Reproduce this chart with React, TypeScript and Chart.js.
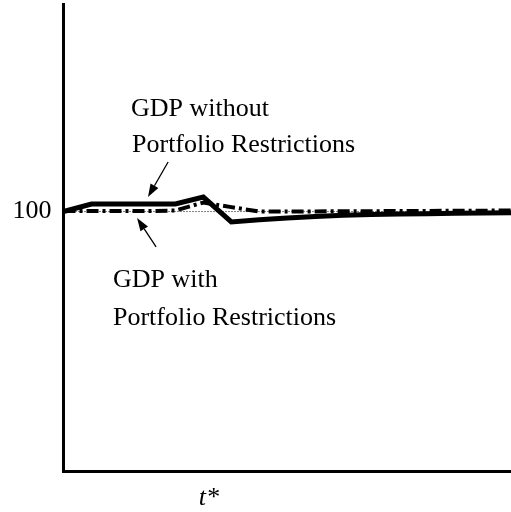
import { useEffect, useRef } from 'react';
import { Chart, registerables } from 'chart.js';

Chart.register(...registerables);

// ---- data ----
const periods = [0, 1, 2, 3, 4, 5, 6, 7, 8, 9, 10, 11, 12, 13, 14, 15, 16];
const gdpWithout = [100, 102.9, 102.9, 102.9, 102.9, 105.6, 96.0, 96.8, 97.5, 98.1, 98.6, 98.9, 99.1, 99.2, 99.3, 99.4, 99.5];
const gdpWith = [100.2, 100.2, 100.2, 100.2, 100.4, 103.5, 101.7, 100.0, 100.0, 100.05, 100.1, 100.15, 100.2, 100.25, 100.3, 100.35, 100.4];
const baseline = [100, 100, 100, 100, 100, 100, 100, 100, 100, 100, 100, 100, 100, 100, 100, 100, 100];

const yTickValues = [100];
const yTickLabels = ['100'];
const xTickValues = [5.2];
const xTickLabels = ['t*'];

const upperLabel = ['GDP without', 'Portfolio Restrictions'];
const upperLabelPos = [{ x: 2.41, y: 136.9 }, { x: 2.45, y: 123.0 }];
const lowerLabel = ['GDP with', 'Portfolio Restrictions'];
const lowerLabelPos = [{ x: 1.77, y: 70.9 }, { x: 1.77, y: 56.3 }];
const arrowUpper = { from: { x: 3.74, y: 119.1 }, to: { x: 3.02, y: 105.6 } };
const arrowLower = { from: { x: 3.31, y: 86.4 }, to: { x: 2.63, y: 97.5 } };

const FONT = '"Liberation Serif", "Times New Roman", serif';

const annotationPlugin = {
  id: 'annotations',
  afterDatasetsDraw(chart: any) {
    const ctx = chart.ctx as CanvasRenderingContext2D;
    const xs = chart.scales.x;
    const ys = chart.scales.y;
    const px = (p: { x: number; y: number }) => [xs.getPixelForValue(p.x), ys.getPixelForValue(p.y)];
    ctx.save();
    ctx.fillStyle = '#000';
    ctx.font = `26px ${FONT}`;
    ctx.textAlign = 'left';
    ctx.textBaseline = 'alphabetic';
    const texts = [...upperLabel.map((t, i) => [t, upperLabelPos[i]]), ...lowerLabel.map((t, i) => [t, lowerLabelPos[i]])] as any[];
    for (const [t, p] of texts) {
      const [x, y] = px(p);
      ctx.fillText(t, x, y);
    }
    const drawArrow = (a: any) => {
      const [x1, y1] = px(a.from);
      const [x2, y2] = px(a.to);
      const ang = Math.atan2(y2 - y1, x2 - x1);
      const head = 13;
      const half = 4.5;
      const bx = x2 - head * Math.cos(ang);
      const by = y2 - head * Math.sin(ang);
      ctx.strokeStyle = '#000';
      ctx.lineWidth = 1.3;
      ctx.beginPath();
      ctx.moveTo(x1, y1);
      ctx.lineTo(bx, by);
      ctx.stroke();
      ctx.beginPath();
      ctx.moveTo(x2, y2);
      ctx.lineTo(bx + half * Math.sin(ang), by - half * Math.cos(ang));
      ctx.lineTo(bx - half * Math.sin(ang), by + half * Math.cos(ang));
      ctx.closePath();
      ctx.fill();
    };
    drawArrow(arrowUpper);
    drawArrow(arrowLower);
    ctx.restore();
  },
};

export default function App() {
  const ref = useRef<HTMLCanvasElement | null>(null);
  useEffect(() => {
    if (!ref.current) return;
    const toPts = (vals: number[]) => periods.map((p, i) => ({ x: p, y: vals[i] }));
    const chart = new Chart(ref.current, {
      type: 'line',
      data: {
        datasets: [
          {
            data: toPts(gdpWithout),
            borderColor: '#000',
            borderWidth: 5,
            pointRadius: 0,
            tension: 0,
            borderJoinStyle: 'miter',
          },
          {
            data: toPts(gdpWith),
            borderColor: '#000',
            borderWidth: 4,
            borderDash: [12, 4, 3, 4],
            pointRadius: 0,
            tension: 0,
            borderJoinStyle: 'miter',
          },
          {
            data: toPts(baseline),
            borderColor: '#000',
            borderWidth: 1,
            borderDash: [1, 2],
            pointRadius: 0,
            tension: 0,
          },
        ],
      },
      options: {
        responsive: false,
        animation: false,
        devicePixelRatio: 1,
        layout: { padding: { top: 4, left: 0, right: 0, bottom: 0 } },
        plugins: { legend: { display: false }, tooltip: { enabled: false } },
        scales: {
          x: {
            type: 'linear',
            min: 0,
            max: 16,
            grid: { display: false, drawTicks: false },
            border: { display: true, color: '#000', width: 3 },
            afterBuildTicks: (s: any) => {
              s.ticks = xTickValues.map((v) => ({ value: v }));
            },
            afterFit: (s: any) => {
              s.height = 41;
              s.paddingLeft = 0;
              s.paddingRight = 0;
              s.paddingTop = 0;
              s.paddingBottom = 0;
            },
            ticks: {
              autoSkip: false,
              maxRotation: 0,
              padding: 12,
              color: '#000',
              font: { family: FONT, size: 26, style: 'italic' },
              callback: (v: any) => {
                const i = xTickValues.indexOf(Number(v));
                return i >= 0 ? xTickLabels[i] : '';
              },
            },
          },
          y: {
            type: 'linear',
            min: 0,
            max: 180,
            grid: { display: false, drawTicks: false },
            border: { display: true, color: '#000', width: 3 },
            afterBuildTicks: (s: any) => {
              s.ticks = yTickValues.map((v) => ({ value: v }));
            },
            afterFit: (s: any) => {
              s.width = 63.5;
              s.paddingLeft = 0;
              s.paddingRight = 0;
              s.paddingTop = 0;
              s.paddingBottom = 0;
            },
            ticks: {
              autoSkip: false,
              padding: 12,
              color: '#000',
              font: { family: FONT, size: 26 },
              callback: (v: any) => {
                const i = yTickValues.indexOf(Number(v));
                return i >= 0 ? yTickLabels[i] : '';
              },
            },
          },
        },
      },
      plugins: [annotationPlugin],
    });
    return () => chart.destroy();
  }, []);
  return (
    <div style={{ position: 'absolute', left: 0, top: 0, width: 511, height: 512, background: '#fff' }}>
      <canvas ref={ref} width={511} height={512} style={{ display: 'block' }} />
    </div>
  );
}
